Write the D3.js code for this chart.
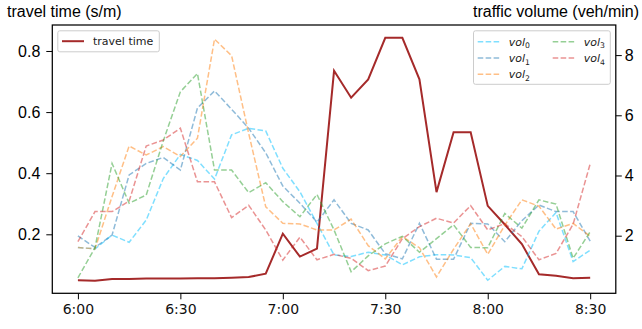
<!DOCTYPE html>
<html><head><meta charset="utf-8">
<script src="https://cdn.jsdelivr.net/npm/d3@7"></script>
<style>body{margin:0;background:#fff}svg{display:block}</style>
</head><body><svg id="c" width="642" height="329"></svg>
<script>
// time categories (5-minute steps)
const times = ["6:00","6:05","6:10","6:15","6:20","6:25","6:30","6:35","6:40","6:45","6:50","6:55",
  "7:00","7:05","7:10","7:15","7:20","7:25","7:30","7:35","7:40","7:45","7:50","7:55",
  "8:00","8:05","8:10","8:15","8:20","8:25","8:30"];
const xTickLabels = ["6:00","6:30","7:00","7:30","8:00","8:30"];
const leftTicks = [0.2, 0.4, 0.6, 0.8];
const rightTicks = [2, 4, 6, 8];

const travelTime = [0.050,0.048,0.054,0.054,0.055,0.055,0.055,0.056,0.056,0.058,0.060,0.071,
  0.202,0.127,0.153,0.735,0.647,0.707,0.843,0.843,0.707,0.338,0.534,0.534,
  0.293,0.232,0.168,0.069,0.064,0.056,0.058];
const vol0 = [1.61,1.56,2.02,1.78,2.52,3.9,4.7,4.5,3.88,5.35,5.57,5.48,4.24,3.46,2.41,1.36,1.31,1.45,1.36,1.03,1.30,1.37,1.36,1.27,0.52,0.98,0.90,2.15,2.77,1.14,1.52];
const vol1 = [1.99,1.61,2.02,4.02,4.40,4.60,4.18,6.24,6.81,6.2,5.57,4.75,3.65,3.08,2.45,3.19,2.41,2.19,1.40,1.23,2.41,1.22,1.22,2.41,2.39,1.80,2.5,3.02,2.80,2.80,1.82];
const vol2 = [1.61,1.56,3.3,4.98,4.68,4.96,4.63,5.24,8.53,7.98,5.4,2.96,2.41,2.39,2.19,2.19,2.55,1.67,1.23,1.97,1.6,0.63,1.55,2.4,1.38,2.35,3.19,2.98,2.22,2.41,1.98];
const vol3 = [0.6,1.6,4.4,3.08,3.35,5.15,6.78,7.39,4.18,4.18,3.43,3.76,3.13,2.63,3.37,2.19,0.80,1.33,1.73,1.98,1.45,1.9,2.36,1.61,1.60,2.74,2.25,3.19,3.05,1.25,2.13];
const vol4 = [1.80,2.80,2.80,3.15,4.98,5.18,5.57,3.79,3.79,2.6,3.01,2.19,1.19,1.95,1.2,1.38,1.25,0.84,0.99,1.9,2.3,2.58,2.42,3.0,2.19,2.4,1.97,1.2,1.41,2.38,4.39];
const volNames = ["0","1","2","3","4"];
const volColors = ["#00bfff","#1f77b4","#ff7f0e","#2ca02c","#d62728"];
const volSeries = [vol0, vol1, vol2, vol3, vol4];

const svg = d3.select("#c");
const L = 52.3, R = 615.8, T = 25, B = 293.3;
const x = d3.scaleLinear().domain([-1.5, times.length - 1 + 1.5]).range([L, R]);
const yL = d3.scaleLinear().domain([0.0069, 0.885]).range([B, T]);
const yR = d3.scaleLinear().domain([0.086, 9.0]).range([B, T]);
const sans = "'Liberation Sans', Arial, sans-serif";
const dv = "'DejaVu Sans', sans-serif";

// travel time line (primary axis)
const lineL = d3.line().x((d, i) => x(i)).y(d => yL(d));
svg.append("path").datum(travelTime).attr("d", lineL)
  .attr("fill", "none").attr("stroke", "#a52a2a").attr("stroke-width", 2).attr("stroke-linejoin", "miter");

// legend 1
const lg1 = svg.append("g");
lg1.append("rect").attr("x", 57.8).attr("y", 30.8).attr("width", 101.5).attr("height", 21)
  .attr("rx", 2).attr("fill", "#fff").attr("fill-opacity", 0.8).attr("stroke", "#cccccc").attr("stroke-width", 1);
lg1.append("line").attr("x1", 62).attr("x2", 84).attr("y1", 41.2).attr("y2", 41.2)
  .attr("stroke", "#a52a2a").attr("stroke-width", 2);
lg1.append("text").attr("x", 93).attr("y", 45).attr("font-family", dv).attr("font-size", 11)
  .attr("fill", "#222").text("travel time");

// vol lines (secondary axis)
const lineR = d3.line().x((d, i) => x(i)).y(d => yR(d));
volSeries.forEach((s, k) => {
  svg.append("path").datum(s).attr("d", lineR)
    .attr("fill", "none").attr("stroke", volColors[k]).attr("stroke-opacity", 0.5)
    .attr("stroke-width", 1.5).attr("stroke-dasharray", "5.55,2.4");
});

// frame
svg.append("rect").attr("x", L).attr("y", T).attr("width", R - L).attr("height", B - T)
  .attr("fill", "none").attr("stroke", "#000").attr("stroke-width", 1.25);

// x axis
const xTickIdx = xTickLabels.map(l => times.indexOf(l));
const xa = svg.append("g").attr("transform", `translate(0,${B})`)
  .call(d3.axisBottom(x).tickValues(xTickIdx).tickFormat(i => times[i]).tickSize(6).tickPadding(5));
xa.select(".domain").remove();
xa.selectAll("text").attr("font-family", dv).attr("font-size", 14).attr("fill", "#111");
xa.selectAll("line").attr("stroke", "#000").attr("stroke-width", 1);

// left axis
const la = svg.append("g").attr("transform", `translate(${L},0)`)
  .call(d3.axisLeft(yL).tickValues(leftTicks).tickFormat(d3.format(".1f")).tickSize(6).tickPadding(6));
la.select(".domain").remove();
la.selectAll("text").attr("font-family", sans).attr("font-size", 16).attr("fill", "#000");
la.selectAll("line").attr("stroke", "#000").attr("stroke-width", 1);

// right axis
const ra = svg.append("g").attr("transform", `translate(${R},0)`)
  .call(d3.axisRight(yR).tickValues(rightTicks).tickFormat(d3.format("d")).tickSize(6).tickPadding(3));
ra.select(".domain").remove();
ra.selectAll("text").attr("font-family", sans).attr("font-size", 16).attr("fill", "#000");
ra.selectAll("line").attr("stroke", "#000").attr("stroke-width", 1);

// axis titles
svg.append("text").attr("x", 7).attr("y", 17).attr("font-family", sans).attr("font-size", 16)
  .attr("fill", "#000").text("travel time (s/m)");
svg.append("text").attr("x", 639).attr("y", 17).attr("text-anchor", "end").attr("font-family", sans)
  .attr("font-size", 16).attr("fill", "#000").text("traffic volume (veh/min)");

// legend 2
const lg2 = svg.append("g");
lg2.append("rect").attr("x", 473.5).attr("y", 30.8).attr("width", 136.8).attr("height", 53.5)
  .attr("rx", 2).attr("fill", "#fff").attr("fill-opacity", 0.8).attr("stroke", "#cccccc").attr("stroke-width", 1);
const pos = [[0,0],[0,1],[0,2],[1,0],[1,1]];
volNames.forEach((n, k) => {
  const cx = 477.7 + pos[k][0] * 75, cy = 41.8 + pos[k][1] * 16.2;
  lg2.append("line").attr("x1", cx).attr("x2", cx + 22).attr("y1", cy).attr("y2", cy)
    .attr("stroke", volColors[k]).attr("stroke-opacity", 0.5).attr("stroke-width", 1.5)
    .attr("stroke-dasharray", "5.55,2.4");
  const t = lg2.append("text").attr("x", cx + 31).attr("y", cy + 4).attr("font-family", dv)
    .attr("font-size", 11).attr("fill", "#222");
  t.append("tspan").attr("font-style", "italic").text("vol");
  t.append("tspan").attr("font-size", 7.7).attr("dy", 2.5).text(n);
});
</script></body></html>
